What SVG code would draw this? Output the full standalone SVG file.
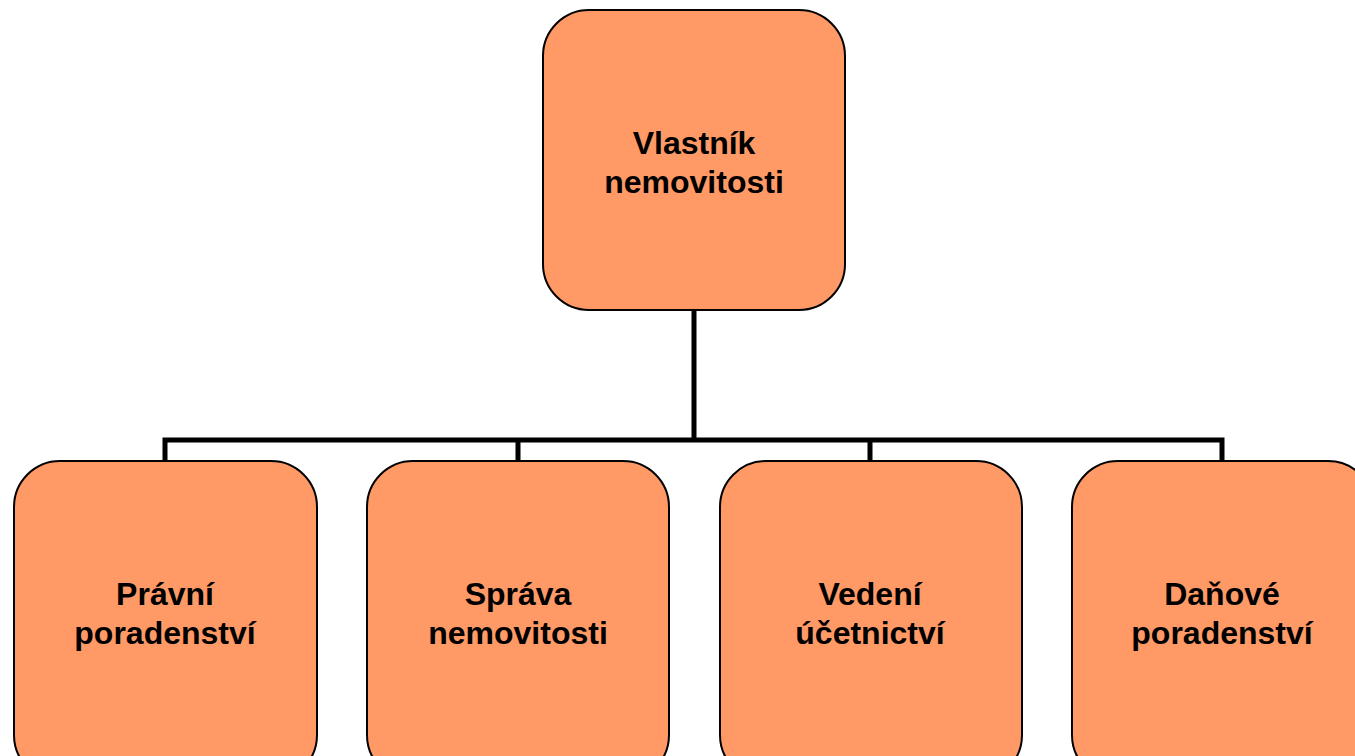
<svg xmlns="http://www.w3.org/2000/svg" width="1355" height="756" viewBox="0 0 1355 756">
<style>
.box{fill:#FF9966;stroke:#000;stroke-width:2}
.lbl{font-family:"Liberation Sans",Arial,sans-serif;font-weight:bold;font-size:32px;fill:#000;text-anchor:middle}
.con{fill:none;stroke:#000;stroke-width:5}
</style>
<rect width="1355" height="756" fill="#fff"/>
<g id="connectors">
<path class="con" d="M694 310 V440 M165 461 V440 H1222 V461 M518 440 V461 M870 440 V461"/>
</g>
<g id="owner">
<rect class="box" x="543" y="10" width="302" height="300" rx="46"/>
<text class="lbl" x="694" y="154">Vlastník</text>
<text class="lbl" x="694" y="193">nemovitosti</text>
</g>
<g id="legal">
<rect class="box" x="14" y="461" width="303" height="320" rx="46"/>
<text class="lbl" x="165" y="605">Právní</text>
<text class="lbl" x="165" y="644">poradenství</text>
</g>
<g id="management">
<rect class="box" x="367" y="461" width="302" height="320" rx="46"/>
<text class="lbl" x="518" y="605">Správa</text>
<text class="lbl" x="518" y="644">nemovitosti</text>
</g>
<g id="accounting">
<rect class="box" x="720" y="461" width="302" height="320" rx="46"/>
<text class="lbl" x="870" y="605">Vedení</text>
<text class="lbl" x="870" y="644">účetnictví</text>
</g>
<g id="tax">
<rect class="box" x="1072" y="461" width="302" height="320" rx="46"/>
<text class="lbl" x="1222" y="605">Daňové</text>
<text class="lbl" x="1222" y="644">poradenství</text>
</g>
</svg>
